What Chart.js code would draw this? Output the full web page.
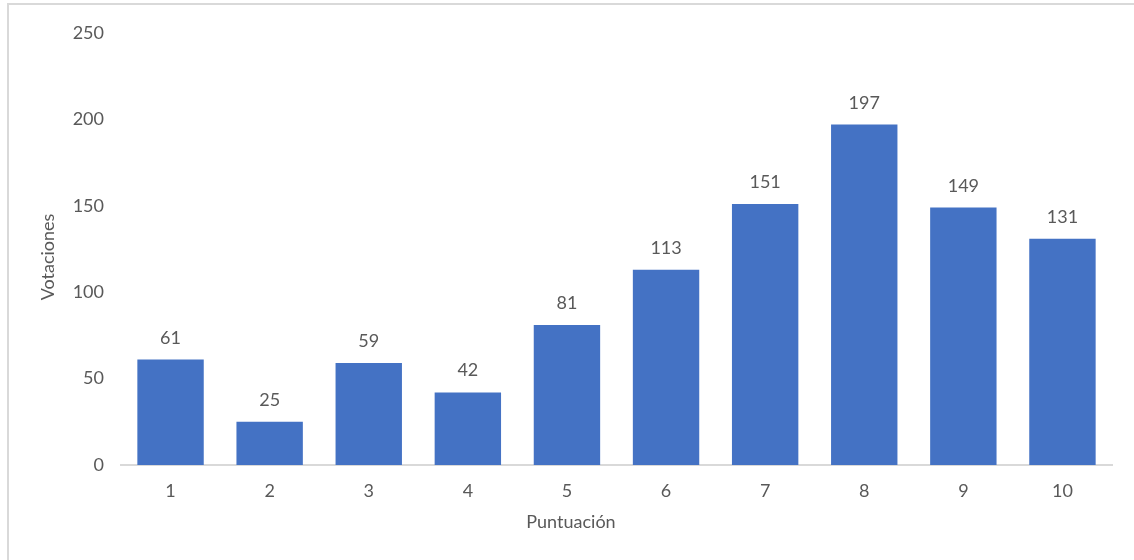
<!DOCTYPE html>
<html>
<head>
<meta charset="utf-8">
<script src="https://cdn.jsdelivr.net/npm/chart.js@4"></script>
<style>
  html, body { margin: 0; padding: 0; background: #fff; }
  #wrap { position: relative; width: 1134px; height: 560px; overflow: hidden; }
  #frame { position: absolute; left: 7px; top: 3px; width: 1200px; height: 700px; border-left: 2px solid #d9d9d9; border-top: 2px solid #d9d9d9; box-sizing: border-box; pointer-events: none; }
  canvas { position: absolute; left: 0; top: 0; }
</style>
</head>
<body>
<div id="wrap">
  <canvas id="c" width="1134" height="560"></canvas>
  <div id="frame"></div>
</div>
<script>
const categories = ['1', '2', '3', '4', '5', '6', '7', '8', '9', '10'];
const votes = [61, 25, 59, 42, 81, 113, 151, 197, 149, 131];
const yTitle = 'Votaciones';
const xTitle = 'Puntuación';

const FONT = 'Lato';
const TEXT = '#595959';
const FS = 18;

const labelPlugin = {
  id: 'barLabels',
  afterDatasetsDraw(chart) {
    const ctx = chart.ctx;
    const meta = chart.getDatasetMeta(0);
    ctx.save();
    ctx.font = FS + 'px ' + FONT;
    ctx.fillStyle = TEXT;
    ctx.textAlign = 'center';
    ctx.textBaseline = 'alphabetic';
    meta.data.forEach((bar, i) => {
      ctx.fillText(String(chart.data.datasets[0].data[i]), bar.x, bar.y - 16);
    });
    // axis titles, placed as in the original chart frame
    ctx.fillText(xTitle, 571, 528);
    ctx.translate(54, 257);
    ctx.rotate(-Math.PI / 2);
    ctx.fillText(yTitle, 0, 0);
    ctx.restore();
  }
};

new Chart(document.getElementById('c'), {
  type: 'bar',
  data: {
    labels: categories,
    datasets: [{
      data: votes,
      backgroundColor: '#4472C4',
      borderWidth: 0,
      barPercentage: 0.67,
      categoryPercentage: 1.0
    }]
  },
  options: {
    responsive: false,
    animation: false,
    devicePixelRatio: 1,
    layout: { padding: { left: 0, right: 22, top: 33, bottom: 0 } },
    plugins: { legend: { display: false }, tooltip: { enabled: false } },
    scales: {
      x: {
        grid: { display: false, drawTicks: false },
        border: { display: true, color: '#d9d9d9', width: 2 },
        ticks: { color: TEXT, font: { family: FONT, size: FS }, padding: 15 },
        title: { display: false },
        afterFit(scale) { scale.height = 95; }
      },
      y: {
        min: 0, max: 250,
        grid: { display: false, drawTicks: false },
        border: { display: false },
        ticks: { stepSize: 50, color: TEXT, font: { family: FONT, size: FS }, padding: 17 },
        title: { display: false },
        afterFit(scale) { scale.width = 121; }
      }
    }
  },
  plugins: [labelPlugin]
});
</script>
</body>
</html>
